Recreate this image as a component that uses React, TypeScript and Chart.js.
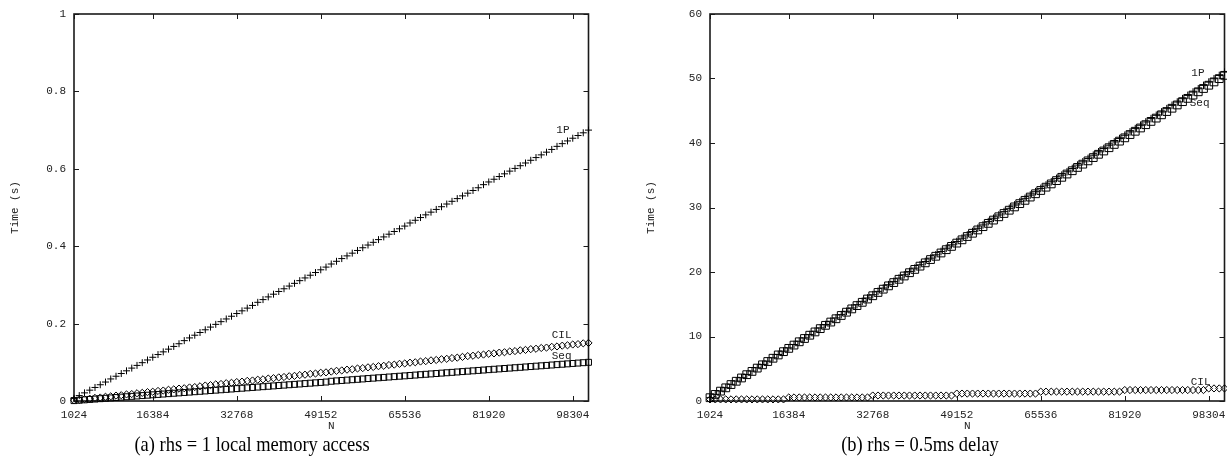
import React, { useEffect, useRef } from "react";
import { Chart, registerables } from "chart.js";

Chart.register(...registerables);

// Problem size N (x values)
const N = [
  1024, 2048, 3072, 4096, 5120, 6144, 7168, 8192, 9216, 10240, 11264, 12288, 13312, 14336, 15360,
  16384, 17408, 18432, 19456, 20480, 21504, 22528, 23552, 24576, 25600, 26624, 27648, 28672, 29696, 30720, 31744,
  32768, 33792, 34816, 35840, 36864, 37888, 38912, 39936, 40960, 41984, 43008, 44032, 45056, 46080, 47104, 48128,
  49152, 50176, 51200, 52224, 53248, 54272, 55296, 56320, 57344, 58368, 59392, 60416, 61440, 62464, 63488, 64512,
  65536, 66560, 67584, 68608, 69632, 70656, 71680, 72704, 73728, 74752, 75776, 76800, 77824, 78848, 79872, 80896,
  81920, 82944, 83968, 84992, 86016, 87040, 88064, 89088, 90112, 91136, 92160, 93184, 94208, 95232, 96256, 97280,
  98304, 99328, 100352, 101376,
];

const X_TICKS = [1024, 16384, 32768, 49152, 65536, 81920, 98304];
const X_MIN = 1024;
const X_MAX = 101376;

// (a) rhs = 1 local memory access
const A_1P = [
  0.007, 0.014, 0.021, 0.028, 0.035, 0.042, 0.049, 0.057, 0.064, 0.071, 0.078, 0.085, 0.092, 0.099, 0.106,
  0.113, 0.12, 0.127, 0.134, 0.141, 0.148, 0.156, 0.163, 0.17, 0.177, 0.184, 0.191, 0.198, 0.205, 0.212, 0.219,
  0.226, 0.233, 0.24, 0.247, 0.255, 0.262, 0.269, 0.276, 0.283, 0.29, 0.297, 0.304, 0.311, 0.318, 0.325, 0.332,
  0.339, 0.346, 0.354, 0.361, 0.368, 0.375, 0.382, 0.389, 0.396, 0.403, 0.41, 0.417, 0.424, 0.431, 0.438, 0.445,
  0.452, 0.46, 0.467, 0.474, 0.481, 0.488, 0.495, 0.502, 0.509, 0.516, 0.523, 0.53, 0.537, 0.544, 0.551, 0.559,
  0.566, 0.573, 0.58, 0.587, 0.594, 0.601, 0.608, 0.615, 0.622, 0.629, 0.636, 0.643, 0.65, 0.658, 0.665, 0.672,
  0.679, 0.686, 0.693, 0.7,
];
const A_CIL = [
  0.002, 0.003, 0.005, 0.006, 0.008, 0.009, 0.011, 0.012, 0.014, 0.015, 0.017, 0.018, 0.02, 0.021, 0.023,
  0.024, 0.026, 0.027, 0.029, 0.03, 0.032, 0.033, 0.035, 0.036, 0.038, 0.04, 0.041, 0.043, 0.044, 0.046, 0.047,
  0.049, 0.05, 0.052, 0.053, 0.055, 0.056, 0.058, 0.059, 0.061, 0.062, 0.064, 0.065, 0.067, 0.068, 0.07, 0.071,
  0.073, 0.074, 0.076, 0.078, 0.079, 0.081, 0.082, 0.084, 0.085, 0.087, 0.088, 0.09, 0.091, 0.093, 0.094, 0.096,
  0.097, 0.099, 0.1, 0.102, 0.103, 0.105, 0.106, 0.108, 0.109, 0.111, 0.112, 0.114, 0.116, 0.117, 0.119, 0.12,
  0.122, 0.123, 0.125, 0.126, 0.128, 0.129, 0.131, 0.132, 0.134, 0.135, 0.137, 0.138, 0.14, 0.141, 0.143, 0.144,
  0.146, 0.147, 0.149, 0.15,
];
const A_SEQ = [
  0.001, 0.002, 0.003, 0.004, 0.005, 0.006, 0.007, 0.008, 0.009, 0.01, 0.011, 0.012, 0.013, 0.014, 0.015,
  0.016, 0.017, 0.018, 0.019, 0.02, 0.021, 0.022, 0.023, 0.024, 0.025, 0.026, 0.027, 0.028, 0.029, 0.03, 0.031,
  0.032, 0.033, 0.034, 0.035, 0.036, 0.037, 0.038, 0.039, 0.04, 0.041, 0.042, 0.043, 0.044, 0.045, 0.046, 0.047,
  0.048, 0.049, 0.051, 0.052, 0.053, 0.054, 0.055, 0.056, 0.057, 0.058, 0.059, 0.06, 0.061, 0.062, 0.063, 0.064,
  0.065, 0.066, 0.067, 0.068, 0.069, 0.07, 0.071, 0.072, 0.073, 0.074, 0.075, 0.076, 0.077, 0.078, 0.079, 0.08,
  0.081, 0.082, 0.083, 0.084, 0.085, 0.086, 0.087, 0.088, 0.089, 0.09, 0.091, 0.092, 0.093, 0.094, 0.095, 0.096,
  0.097, 0.098, 0.099, 0.1,
];

// (b) rhs = 0.5ms delay
const B_1P = [
  0.52, 1.03, 1.55, 2.06, 2.58, 3.09, 3.61, 4.12, 4.64, 5.15, 5.67, 6.18, 6.7, 7.21, 7.73,
  8.24, 8.76, 9.27, 9.79, 10.3, 10.82, 11.33, 11.85, 12.36, 12.88, 13.39, 13.91, 14.42, 14.94, 15.45, 15.97,
  16.48, 17.0, 17.51, 18.03, 18.54, 19.06, 19.57, 20.09, 20.6, 21.12, 21.63, 22.15, 22.66, 23.18, 23.69, 24.21,
  24.72, 25.24, 25.75, 26.27, 26.78, 27.3, 27.81, 28.33, 28.84, 29.36, 29.87, 30.39, 30.9, 31.42, 31.93, 32.45,
  32.96, 33.48, 33.99, 34.51, 35.02, 35.54, 36.05, 36.57, 37.08, 37.6, 38.11, 38.63, 39.14, 39.66, 40.17, 40.69,
  41.2, 41.72, 42.23, 42.75, 43.26, 43.78, 44.29, 44.81, 45.32, 45.84, 46.35, 46.87, 47.38, 47.9, 48.41, 48.93,
  49.44, 49.96, 50.47, 50.99,
];
const B_CIL = [
  0.25, 0.25, 0.25, 0.25, 0.25, 0.25, 0.25, 0.25, 0.25, 0.25, 0.25, 0.25, 0.25, 0.25, 0.25,
  0.55, 0.55, 0.55, 0.55, 0.55, 0.55, 0.55, 0.55, 0.55, 0.55, 0.55, 0.55, 0.55, 0.55, 0.55, 0.55,
  0.85, 0.85, 0.85, 0.85, 0.85, 0.85, 0.85, 0.85, 0.85, 0.85, 0.85, 0.85, 0.85, 0.85, 0.85, 0.85,
  1.15, 1.15, 1.15, 1.15, 1.15, 1.15, 1.15, 1.15, 1.15, 1.15, 1.15, 1.15, 1.15, 1.15, 1.15, 1.15,
  1.45, 1.45, 1.45, 1.45, 1.45, 1.45, 1.45, 1.45, 1.45, 1.45, 1.45, 1.45, 1.45, 1.45, 1.45, 1.45,
  1.7, 1.7, 1.7, 1.7, 1.7, 1.7, 1.7, 1.7, 1.7, 1.7, 1.7, 1.7, 1.7, 1.7, 1.7, 1.7,
  1.95, 1.95, 1.95, 1.95,
];
const B_SEQ = [
  0.51, 1.02, 1.53, 2.04, 2.55, 3.06, 3.57, 4.08, 4.59, 5.1, 5.61, 6.12, 6.63, 7.14, 7.65,
  8.16, 8.67, 9.18, 9.69, 10.2, 10.71, 11.22, 11.73, 12.24, 12.75, 13.26, 13.77, 14.28, 14.79, 15.3, 15.81,
  16.32, 16.83, 17.34, 17.85, 18.36, 18.87, 19.38, 19.89, 20.4, 20.91, 21.42, 21.93, 22.44, 22.95, 23.46, 23.97,
  24.48, 24.99, 25.5, 26.01, 26.52, 27.03, 27.54, 28.05, 28.56, 29.07, 29.58, 30.09, 30.6, 31.11, 31.62, 32.13,
  32.64, 33.15, 33.66, 34.17, 34.68, 35.19, 35.7, 36.21, 36.72, 37.23, 37.74, 38.25, 38.76, 39.27, 39.78, 40.29,
  40.8, 41.31, 41.82, 42.33, 42.84, 43.35, 43.86, 44.37, 44.88, 45.39, 45.9, 46.41, 46.92, 47.43, 47.94, 48.45,
  48.96, 49.47, 49.98, 50.49,
];

const MONO = '"Liberation Mono", "DejaVu Sans Mono", monospace';
const TXT = "#222";

const framePlugin = {
  id: "gnuframe",
  beforeDatasetsDraw(chart: any) {
    const { ctx, chartArea: a, scales } = chart;
    ctx.save();
    ctx.strokeStyle = "#1a1a1a";
    ctx.lineWidth = 1;
    const tl = 5;
    ctx.beginPath();
    for (const t of scales.x.ticks) {
      const px = Math.round(scales.x.getPixelForValue(t.value)) + 0.5;
      ctx.moveTo(px, a.bottom);
      ctx.lineTo(px, a.bottom - tl);
      ctx.moveTo(px, a.top);
      ctx.lineTo(px, a.top + tl);
    }
    for (const t of scales.y.ticks) {
      const py = Math.round(scales.y.getPixelForValue(t.value)) + 0.5;
      ctx.moveTo(a.left, py);
      ctx.lineTo(a.left + tl, py);
      ctx.moveTo(a.right, py);
      ctx.lineTo(a.right - tl, py);
    }
    ctx.stroke();
    ctx.lineWidth = 1.6;
    ctx.strokeRect(a.left, a.top, a.right - a.left, a.bottom - a.top);
    ctx.restore();
  },
  afterDatasetsDraw(chart: any, _args: any, opts: any) {
    const { ctx, chartArea: a } = chart;
    ctx.save();
    ctx.fillStyle = TXT;
    ctx.font = `11px ${MONO}`;
    // y title
    ctx.save();
    ctx.translate(opts.yTitleX, (a.top + a.bottom) / 2);
    ctx.rotate(-Math.PI / 2);
    ctx.textAlign = "center";
    ctx.textBaseline = "middle";
    ctx.fillText("Time (s)", 0, 0);
    ctx.restore();
    // x title
    ctx.textAlign = "center";
    ctx.textBaseline = "middle";
    ctx.fillText("N", (a.left + a.right) / 2, a.bottom + 25);
    // series labels
    ctx.textAlign = "right";
    for (const l of opts.labels || []) {
      const meta = chart.getDatasetMeta(l.ds);
      const el = meta.data[meta.data.length - 1];
      ctx.fillText(l.text, el.x + l.dx, el.y + l.dy);
    }
    ctx.restore();
  },
};

type PanelProps = {
  left: number;
  width: number;
  padRight: number;
  yMax: number;
  yStep: number;
  series: { label: string; data: number[]; style: string; radius: number }[];
  labels: { ds: number; text: string; dx: number; dy: number }[];
};

const H = 432;

function Panel(props: PanelProps) {
  const ref = useRef<HTMLCanvasElement>(null);
  useEffect(() => {
    if (!ref.current) return;
    const chart = new Chart(ref.current, {
      type: "scatter",
      data: {
        datasets: props.series.map((s) => ({
          label: s.label,
          data: N.map((n, i) => ({ x: n, y: s.data[i] })),
          pointStyle: s.style as any,
          pointRadius: s.radius,
          pointBorderWidth: 1,
          borderColor: "#000",
          backgroundColor: "rgba(0,0,0,0)",
          showLine: false,
          clip: false as any,
        })),
      },
      options: {
        responsive: false,
        animation: false,
        events: [],
        layout: { padding: { left: 0, top: 14, right: props.padRight, bottom: 0 } },
        plugins: {
          legend: { display: false },
          tooltip: { enabled: false },
          gnuframe: { yTitleX: 15, labels: props.labels },
        } as any,
        scales: {
          x: {
            type: "linear",
            min: X_MIN,
            max: X_MAX,
            afterBuildTicks: (scale: any) => {
              scale.ticks = X_TICKS.map((v) => ({ value: v }));
            },
            afterFit: (scale: any) => {
              scale.height = H - 401;
              scale.paddingLeft = 0;
              scale.paddingRight = 0;
            },
            grid: { display: false, drawTicks: false },
            border: { display: false },
            ticks: {
              autoSkip: false,
              maxRotation: 0,
              padding: 7,
              color: TXT,
              font: { family: MONO, size: 11 },
              callback: (v: any) => String(v),
            },
          },
          y: {
            type: "linear",
            min: 0,
            max: props.yMax,
            afterFit: (scale: any) => {
              scale.width = 74;
              scale.paddingTop = 0;
              scale.paddingBottom = 0;
            },
            grid: { display: false, drawTicks: false },
            border: { display: false },
            ticks: {
              stepSize: props.yStep,
              padding: 8,
              color: TXT,
              font: { family: MONO, size: 11 },
              callback: (v: any) => String(Math.round(Number(v) * 1000) / 1000),
            },
          },
        },
      },
      plugins: [framePlugin as any],
    });
    return () => chart.destroy();
  }, []);
  return (
    <canvas
      ref={ref}
      width={props.width}
      height={H}
      style={{ position: "absolute", left: props.left, top: 0, width: props.width, height: H }}
    />
  );
}

const captionStyle: React.CSSProperties = {
  position: "absolute",
  top: 431,
  fontFamily: '"Liberation Serif", "DejaVu Serif", serif',
  fontSize: 22,
  lineHeight: "26px",
  color: "#000",
  whiteSpace: "nowrap",
  transform: "translateX(-50%) scaleX(0.84)",
};

export default function App() {
  return (
    <div
      style={{
        position: "fixed",
        left: 0,
        top: 0,
        width: 1227,
        height: 467,
        background: "#fff",
        overflow: "hidden",
      }}
    >
      <Panel
        left={0}
        width={600}
        padRight={11.5}
        yMax={1}
        yStep={0.2}
        series={[
          { label: "1P", data: A_1P, style: "cross", radius: 3.5 },
          { label: "CIL", data: A_CIL, style: "rectRot", radius: 3.6 },
          { label: "Seq", data: A_SEQ, style: "rect", radius: 4.2 },
        ]}
        labels={[
          { ds: 0, text: "1P", dx: -19, dy: 0 },
          { ds: 1, text: "CIL", dx: -17, dy: -8 },
          { ds: 2, text: "Seq", dx: -17, dy: -6 },
        ]}
      />
      <Panel
        left={636}
        width={600}
        padRight={11.5}
        yMax={60}
        yStep={10}
        series={[
          { label: "1P", data: B_1P, style: "cross", radius: 3.8 },
          { label: "CIL", data: B_CIL, style: "rectRot", radius: 3.6 },
          { label: "Seq", data: B_SEQ, style: "rect", radius: 5.5 },
        ]}
        labels={[
          { ds: 0, text: "1P", dx: -20, dy: 1 },
          { ds: 2, text: "Seq", dx: -15, dy: 28 },
          { ds: 1, text: "CIL", dx: -14, dy: -6 },
        ]}
      />
      <div style={{ ...captionStyle, left: 252 }}>(a) rhs = 1 local memory access</div>
      <div style={{ ...captionStyle, left: 920 }}>(b) rhs = 0.5ms delay</div>
    </div>
  );
}
